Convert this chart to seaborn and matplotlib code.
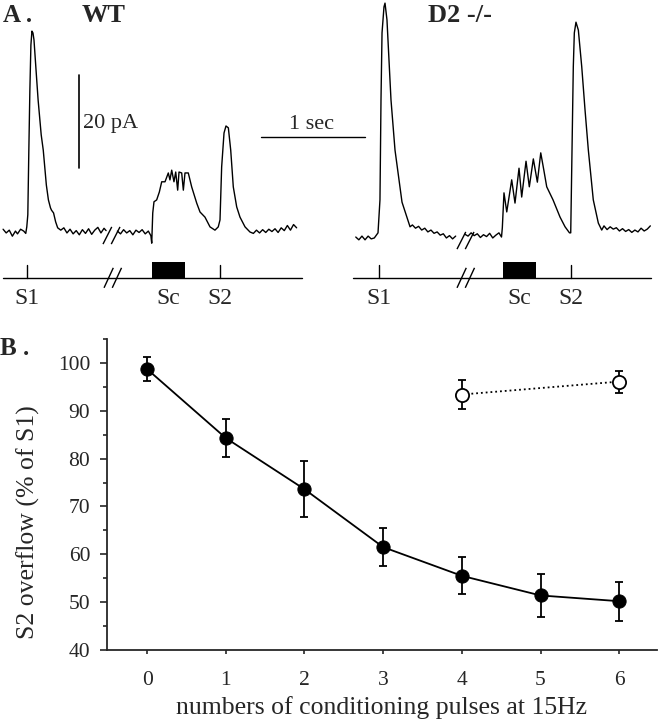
import numpy as np
import pandas as pd
import seaborn as sns
import matplotlib.pyplot as plt
from matplotlib.patches import Rectangle
from matplotlib.ticker import MultipleLocator

# ---------------- panel B data ----------------
pulses = [0, 1, 2, 3, 4, 5, 6]
wt_overflow = [98.7, 84.3, 73.6, 61.5, 55.5, 51.4, 50.2]
wt_sem = [2.5, 4.0, 5.8, 3.9, 3.9, 4.4, 4.1]
ko_pulses = [4, 6]
ko_overflow = [93.4, 96.1]
ko_sem = [3.1, 2.3]

# ---------------- panel A traces (time in s, current in pA) ----------------
wt_t_pre = [0.03, 0.06, 0.09, 0.12, 0.15, 0.17, 0.20, 0.23, 0.25,
            0.26, 0.27, 0.28, 0.29, 0.30, 0.31, 0.32, 0.33,
            0.35, 0.37, 0.40, 0.42, 0.45, 0.47, 0.49, 0.50, 0.52, 0.54, 0.56,
            0.59, 0.62, 0.65, 0.68, 0.71, 0.74, 0.77, 0.80, 0.83, 0.86, 0.89,
            0.92, 0.95, 0.98, 1.01, 1.03]
wt_i_pre = [0.6, -0.2, 0.4, -0.9, 0.2, -0.4, 0.6, 0.2, -0.3,
            1.1, 3.7, 17.6, 30.5, 40.2, 43.2, 42.8, 41.3,
            34.8, 28.4, 20.9, 17.6, 10.1, 6.9, 5.2, 4.7, 4.1, 2.2, 0.9,
            0.4, 0.9, -0.2, 0.6, -0.4, 0.3, -0.6, 0.5, -0.3, 0.7, -0.5,
            0.4, 1.0, -0.2, 0.8, 0.3]
wt_t_post = [1.14, 1.17, 1.20, 1.23, 1.26, 1.29, 1.32, 1.35, 1.38, 1.41, 1.44,
             1.465, 1.473, 1.483, 1.495, 1.521, 1.547, 1.570,
             1.602, 1.634, 1.650, 1.667, 1.689, 1.706, 1.725, 1.738, 1.764,
             1.780, 1.796, 1.828, 1.861,
             1.910, 1.942, 1.990, 2.039, 2.087, 2.119,
             2.136, 2.152, 2.175, 2.194, 2.217, 2.240, 2.265, 2.298, 2.330,
             2.379, 2.427,
             2.46, 2.49, 2.52, 2.55, 2.58, 2.61, 2.64, 2.67, 2.70, 2.73, 2.76,
             2.79, 2.82, 2.85, 2.88]
wt_i_post = [0.2, -0.4, 0.5, -0.2, 0.3, -0.6, 0.4, -0.1, 0.5, -0.4, 0.2,
             -0.8, -2.4, 4.1, 6.5, 6.9, 8.6, 10.8,
             10.8, 12.7, 11.2, 13.3, 10.8, 12.9, 9.0, 12.9, 12.7,
             9.0, 12.7, 12.7, 9.7,
             6.2, 4.3, 3.2, 1.1, 0.4, 1.1,
             2.6, 14.0, 21.3, 22.8, 22.4, 17.6, 9.7, 5.4, 3.2,
             1.1, 0.0,
             -0.3, 0.4, -0.2, 0.5, -0.1, 0.6, 0.1, 0.7, -0.1, 0.9, 0.3,
             1.4, 0.4, 1.6, 0.9]

d2_t_pre = [0.25, 0.28, 0.31, 0.34, 0.37, 0.40, 0.43,
            0.466, 0.485, 0.495, 0.505, 0.524, 0.534, 0.553, 0.592, 0.631,
            0.699, 0.777,
            0.80, 0.83, 0.86, 0.89, 0.92, 0.95, 0.98, 1.01, 1.04, 1.07, 1.10,
            1.13, 1.16, 1.19, 1.22]
d2_i_pre = [0.0, -0.6, 0.2, -0.6, 0.2, -0.4, -0.2,
            0.9, 8.0, 29.5, 43.9, 49.5, 50.3, 46.7, 29.5, 18.7,
            7.5, 2.2,
            2.6, 1.9, 2.3, 1.5, 1.9, 1.1, 1.5, 0.8, 1.1, 0.4, 0.7,
            -0.2, 0.3, -0.4, 0.2]
d2_t_post = [1.31, 1.34, 1.37, 1.40, 1.43, 1.46, 1.49, 1.52, 1.55, 1.58, 1.61, 1.64,
             1.665, 1.673, 1.689, 1.716, 1.764, 1.796, 1.835, 1.861, 1.903,
             1.935, 1.974, 2.013, 2.046, 2.075, 2.104, 2.165, 2.233, 2.282, 2.325,
             2.337, 2.347, 2.362, 2.372, 2.388, 2.411, 2.444, 2.476, 2.508,
             2.556, 2.605, 2.638, 2.660,
             2.69, 2.72, 2.75, 2.78, 2.81, 2.84, 2.87, 2.90, 2.93, 2.96, 2.99,
             3.02, 3.05, 3.08, 3.11]
d2_i_post = [0.6, 0.2, 0.9, 0.3, 0.7, -0.1, 0.5, 0.1, 0.8, -0.2, 0.4, 0.9,
             0.0, 2.0, 9.5, 5.4, 12.3, 7.3, 14.8, 8.6, 16.3,
             10.8, 16.8, 11.8, 18.1, 14.5, 10.8, 8.0, 4.3, 2.2, 0.9,
             0.9, 15.1, 36.6, 43.9, 46.2, 44.5, 36.6, 27.3, 18.7,
             8.0, 3.0, 1.5, 2.4,
             1.6, 2.2, 1.7, 2.0, 1.3, 1.8, 1.2, 1.6, 1.0, 1.5, 1.1,
             1.9, 1.3, 1.7, 2.4]

# stimulus protocol (s, relative to each sweep)
wt_s1, wt_sc, wt_s2 = 0.26, (1.476, 1.796), 2.136
d2_s1, d2_sc, d2_s2 = 0.476, (1.680, 2.000), 2.340

# ---------------- layout ----------------
W, H = 658, 720
D2_OFFSET = 3.204      # s, start of the D2 sweep in panel A
D2_BASE = -1.08        # pA, vertical shift of D2 sweep
LINE_Y, TICK_Y, BOX_TOP, LABEL_Y = -9.9, -7.1, -6.45, -14.2

sns.set_style('ticks')
plt.rcParams['font.family'] = ['Liberation Serif', 'DejaVu Serif']
plt.rcParams['mathtext.default'] = 'regular'

fig = plt.figure(figsize=(W / 100, H / 100), dpi=100)


def draw_break(ax, t0, y0, y1, dx=0.085, gap=0.08):
    for k in range(2):
        ax.plot([t0 + k * gap, t0 + k * gap + dx], [y0, y1], color='black',
                lw=1.0, solid_capstyle='butt', clip_on=False)


def draw_sweep(ax, off, base, t_pre, i_pre, t_post, i_post, s1, sc, s2,
               line_span, trace_break, line_break):
    for t, i in [(t_pre, i_pre), (t_post, i_post)]:
        sns.lineplot(x=np.array(t) + off, y=np.array(i) + base, ax=ax,
                     color='black', lw=1.0, estimator=None, sort=False,
                     legend=False)
    draw_break(ax, trace_break + off, -2.6 + base, 1.1 + base)
    # stimulus line
    ax.plot([line_span[0] + off, line_span[1] + off], [LINE_Y, LINE_Y],
            color='black', lw=1.0)
    draw_break(ax, line_break + off, -12.0, -7.7, dx=0.09)
    for s in (s1, s2):
        ax.plot([s + off, s + off], [LINE_Y, TICK_Y], color='black', lw=1.0)
    ax.add_patch(Rectangle((sc[0] + off, LINE_Y), sc[1] - sc[0],
                           BOX_TOP - LINE_Y, color='black', lw=0))
    for txt, s in [('S1', s1), ('Sc', (sc[0] + sc[1]) / 2), ('S2', s2)]:
        ax.text(s + off, LABEL_Y, txt, ha='center', va='center', fontsize=17,
                clip_on=False)


# ---------------- panel A ----------------
ax_a = fig.add_axes([0, 420 / H, 1, 300 / H])
ax_a.set_xlim(0, W / 103)
ax_a.set_ylim(-14.62, 49.89)
ax_a.axis('off')

draw_sweep(ax_a, 0.0, 0.0, wt_t_pre, wt_i_pre, wt_t_post, wt_i_post,
           wt_s1, wt_sc, wt_s2, (0.03, 2.93), 1.00, 1.01)
draw_sweep(ax_a, D2_OFFSET, D2_BASE, d2_t_pre, d2_i_pre, d2_t_post, d2_i_post,
           d2_s1, d2_sc, d2_s2, (0.223, 3.117), 1.233, 1.233)

# scale bars: 20 pA and 1 sec
ax_a.plot([0.767, 0.767], [13.8, 33.8], color='black', lw=1.2)
ax_a.text(0.806, 23.4, '20 pA', ha='left', va='center', fontsize=16)
ax_a.plot([2.53, 3.54], [20.4, 20.4], color='black', lw=1.0)
ax_a.text(3.02, 23.2, '1 sec', ha='center', va='center', fontsize=16)

fig.text(3 / W, 1 - 15 / H, 'A .', fontsize=18, fontweight='bold',
         ha='left', va='center')
fig.text(104 / W, 1 - 15 / H, 'WT', fontsize=19, fontweight='bold',
         ha='center', va='center')
fig.text(460 / W, 1 - 15 / H, 'D2 -/-', fontsize=19, fontweight='bold',
         ha='center', va='center')

# ---------------- panel B ----------------
ax_b = fig.add_axes([107 / W, 70 / H, 550 / W, 311 / H])
df_wt = pd.DataFrame({'pulses': pulses, 'overflow': wt_overflow})
df_ko = pd.DataFrame({'pulses': ko_pulses, 'overflow': ko_overflow})

ax_b.errorbar(pulses, wt_overflow, yerr=wt_sem, fmt='none', ecolor='black',
              elinewidth=1.3, capsize=3, capthick=1.3, zorder=1.5)
ax_b.errorbar(ko_pulses, ko_overflow, yerr=ko_sem, fmt='none', ecolor='black',
              elinewidth=1.3, capsize=3, capthick=1.3, zorder=1.5)
sns.lineplot(data=df_wt, x='pulses', y='overflow', ax=ax_b, color='black',
             lw=1.3, marker='o', markersize=9.5, markerfacecolor='black',
             markeredgecolor='black', legend=False)
sns.lineplot(data=df_ko, x='pulses', y='overflow', ax=ax_b, color='black',
             lw=1.3, linestyle=':', marker='o', markersize=9.5,
             markerfacecolor='white', markeredgecolor='black',
             markeredgewidth=1.3, legend=False)

ax_b.set_xlim(-0.51, 6.48)
ax_b.set_ylim(40, 105)
ax_b.set_xticks(pulses)
ax_b.yaxis.set_major_locator(MultipleLocator(10))
ax_b.set_yticks(np.arange(40, 101, 10))
ax_b.set_yticks(np.arange(45, 106, 10), minor=True)
ax_b.tick_params(axis='y', which='major', direction='out', length=5, width=1.2,
                 pad=7, labelsize=15.5)
ax_b.tick_params(axis='y', which='minor', direction='out', length=3, width=1.2)
ax_b.tick_params(axis='x', direction='out', length=3, width=1.2, pad=12,
                 labelsize=15.5)
for side in ('top', 'right'):
    ax_b.spines[side].set_visible(False)
for side in ('left', 'bottom'):
    ax_b.spines[side].set_linewidth(1.3)

ax_b.set_xlabel('numbers of conditioning pulses at 15Hz', fontsize=18.5)
ax_b.set_ylabel('S2 overflow (% of S1)', fontsize=18.5)
ax_b.xaxis.set_label_coords(0.5, -0.148)
ax_b.yaxis.set_label_coords(-0.122, 0.41)

fig.text(0, 1 - 348 / H, 'B .', fontsize=18, fontweight='bold',
         ha='left', va='center')

fig.savefig('out.png', dpi=100)
